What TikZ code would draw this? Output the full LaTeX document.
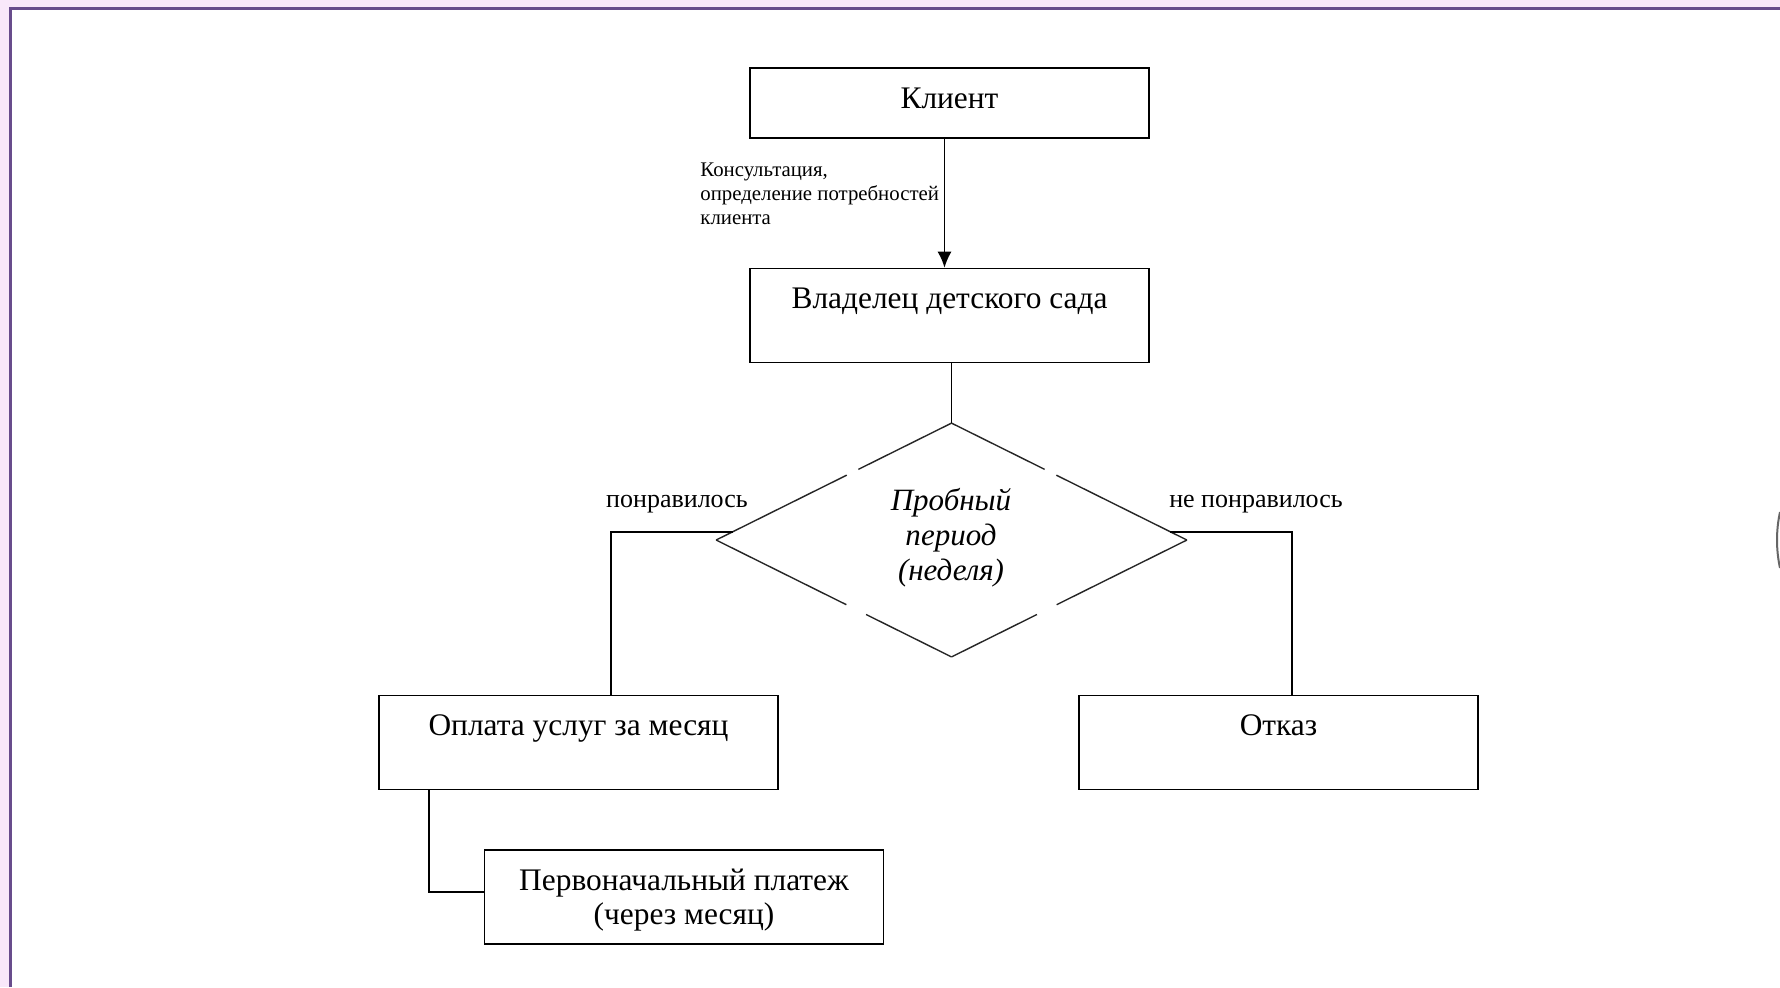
\documentclass[tikz,border=0pt]{standalone}
\usepackage{fontspec}
\setmainfont{Liberation Serif}
\usetikzlibrary{shapes.geometric,arrows.meta,calc}
\definecolor{framepink}{RGB}{249,232,250}
\definecolor{frameline}{RGB}{104,76,140}

\begin{document}
\begin{tikzpicture}[x=0.5pt,y=-0.5pt,
  block/.style={draw,line width=0.8pt,inner sep=0pt,minimum width=199.5pt,font=\fontsize{15.7}{17}\selectfont},
  head/.style={block,text height=20pt,text depth=15pt},
  tall/.style={block,text height=20pt,text depth=27pt},
  choice/.style={font=\fontsize{13}{15}\selectfont,anchor=base,inner sep=0pt},
  wire/.style={line width=0.8pt},
  rim/.style={draw=black!85,line width=0.7pt}]

          \useasboundingbox (0,0) rectangle (1780,987);
          \fill[white] (0,0) rectangle (1780,987);
          \fill[framepink] (0,0) rectangle (1780,8);
          \fill[framepink] (0,0) rectangle (10,987);
          \draw[frameline,line width=1.3pt] (10.5,987) -- (10.5,8.5) -- (1780,8.5);
          \draw[black!60,line width=1pt] (1780,512) .. controls (1776,530) and (1776,550) .. (1780,568);

          \node[head] (klient) at (949.5,103) {Клиент};
          \node[tall] (owner) at (949.5,315.5) {Владелец детского сада};

          \node[diamond,minimum width=235pt,minimum height=116.5pt,inner sep=0pt] (trial) at (951.5,540) {};
          \node[font=\itshape\fontsize{15.5}{17.5}\selectfont,align=center,inner sep=0pt] (trialtext) at (951,538) {Пробный\\период\\(неделя)};

          \foreach \tip/\on/\off in {north/52/6.5,south/47.7/11}{
            \draw[rim,dash pattern=on \on pt off \off pt on 200pt] (trial.\tip) -- (trial.west);
            \draw[rim,dash pattern=on \on pt off \off pt on 200pt] (trial.\tip) -- (trial.east);
          }

          \node[tall] (pay) at (578.5,742.5) {Оплата услуг за месяц};
          \node[tall] (refuse) at (1278.5,742.5) {Отказ};
          \node[block,minimum height=47pt,align=center] (first) at (684,897) {\rule{0pt}{14.2pt}Первоначальный платеж\\(через месяц)};

          \node[choice] (liked) at (677,507) {понравилось};
          \node[choice] (disliked) at (1256,507) {не понравилось};
          \node[font=\fontsize{10.4}{12}\selectfont,align=left,anchor=north west,inner sep=0pt] (consult) at (700,162) {Консультация,\\определение потребностей\\клиента};

          \draw[wire,-{Latex[length=8pt,width=7pt]}] ([xshift=-2.5pt]klient.south) -- ([xshift=-2.5pt]owner.north);
          \draw[wire] (owner.south -| trial.north) -- (trial.north);
          \draw[wire] ($(trial.west)!0.07!(trial.north)$) -| ([xshift=16.25pt]pay.north);
          \draw[wire] ($(trial.east)!0.07!(trial.north)$) -| ([xshift=6.75pt]refuse.north);
          \draw[wire] ([xshift=25.5pt]pay.south west) |- ([yshift=2.5pt]first.west);
        \end{tikzpicture}
\end{document}
